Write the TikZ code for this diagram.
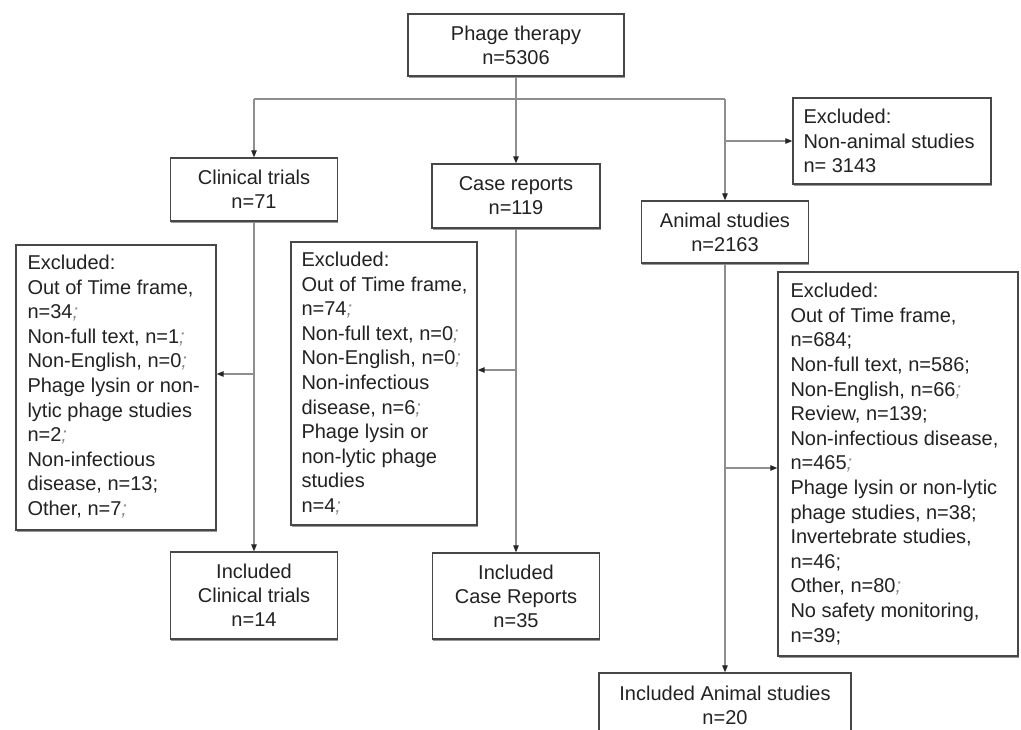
\documentclass[tikz,border=0pt]{standalone}
\usepackage{fontspec}
\setmainfont{Liberation Sans}
\usetikzlibrary{arrows.meta,shadows}
\definecolor{boxc}{HTML}{474747}
\definecolor{linec}{HTML}{8E8E8E}
\definecolor{txtc}{HTML}{222222}
\definecolor{semic}{HTML}{8A8A8A}
\newcommand{\lsc}{{\color{semic}\itshape;}}
\begin{document}
\begin{tikzpicture}[x=1pt,y=-1pt,
  box/.style={draw=boxc, line width=1.4pt, fill=white, text=txtc,
    font=\fontsize{20}{24}\selectfont, align=center, inner sep=0pt,
    drop shadow={shadow xshift=0.8pt, shadow yshift=-1.8pt, fill=black!40, opacity=1}},
  txt/.style={text=txtc, font=\fontsize{20}{24.6}\selectfont, align=left, inner sep=0pt, anchor=west},
  conn/.style={draw=linec, line width=1.2pt},
  arr/.style={conn, -{Triangle[length=7pt,width=5.5pt,fill=black!85,color=black!85]}}
]
\useasboundingbox (0,0) rectangle (1021,729);
\clip (0,0) rectangle (1021,729);
\fill[white] (0,0) rectangle (1021,729);

% main boxes
\node[box, minimum width=216pt, minimum height=62pt] (phage) at (516,45) {Phage therapy\\n=5306};
\node[box, minimum width=167pt, minimum height=63pt] (clin) at (254,189.5) {Clinical trials\\n=71};
\node[box, minimum width=168pt, minimum height=64pt] (case) at (516,196) {Case reports\\n=119};
\node[box, minimum width=167pt, minimum height=62pt] (anim) at (725,232) {Animal studies\\n=2163};

% excluded non-animal
\node[box, minimum width=198pt, minimum height=86pt] (nonan) at (892,141) {};
\node[txt] (nonant) at ([xshift=11pt]nonan.west) {Excluded:\\Non-animal studies\\n= 3143};

% excluded boxes
\node[box, minimum width=200pt, minimum height=285pt] (exL) at (116,387.5) {};
\node[txt] (exLt) at ([xshift=12pt,yshift=1pt]exL.west) {Excluded:\\Out of Time frame,\\n=34\lsc\\Non-full text, n=1\lsc\\Non-English, n=0\lsc\\Phage lysin or non-\\lytic phage studies\\n=2\lsc\\Non-infectious\\disease, n=13;\\Other, n=7\lsc};

\node[box, minimum width=186pt, minimum height=283pt] (exM) at (384,383.5) {};
\node[txt] (exMt) at ([xshift=11pt]exM.west) {Excluded:\\Out of Time frame,\\n=74\lsc\\Non-full text, n=0\lsc\\Non-English, n=0\lsc\\Non-infectious\\disease, n=6\lsc\\Phage lysin or\\non-lytic phage\\studies\\n=4\lsc};

\node[box, minimum width=240pt, minimum height=384pt] (exR) at (898,464) {};
\node[txt] (exRt) at ([xshift=13pt]exR.west) {Excluded:\\Out of Time frame,\\n=684;\\Non-full text, n=586;\\Non-English, n=66\lsc\\Review, n=139;\\Non-infectious disease,\\n=465\lsc\\Phage lysin or non-lytic\\phage studies, n=38;\\Invertebrate studies,\\n=46;\\Other, n=80\lsc\\No safety monitoring,\\n=39;};

% included boxes
\node[box, minimum width=167pt, minimum height=87pt] (inclC) at (254,595.5) {Included\\Clinical trials\\n=14};
\node[box, minimum width=167pt, minimum height=86pt] (inclR) at (516,596) {Included\\Case Reports\\n=35};
\node[box, minimum width=252pt, minimum height=64pt] (inclA) at (725,705) {Included Animal studies\\n=20};

% connectors
\coordinate (bus) at (0,99);
\draw[conn] (clin.north |- bus) -- (anim.north |- bus);
\draw[arr] (phage.south) -- (case.north);
\draw[arr] (clin.north |- bus) -- (clin.north);
\draw[arr] (anim.north |- bus) -- (anim.north);
\draw[arr] (anim.north |- nonan.west) -- (nonan.west);

\coordinate (jL) at (254,374);
\coordinate (jM) at (516,370);
\coordinate (jR) at (725,468);
\draw[arr] (clin.south) -- (inclC.north);
\draw[arr] (jL) -- (jL -| exL.east);
\draw[arr] (case.south) -- (inclR.north);
\draw[arr] (jM) -- (jM -| exM.east);
\draw[arr] (anim.south) -- (inclA.north);
\draw[arr] (jR) -- (jR -| exR.west);
\end{tikzpicture}
\end{document}
